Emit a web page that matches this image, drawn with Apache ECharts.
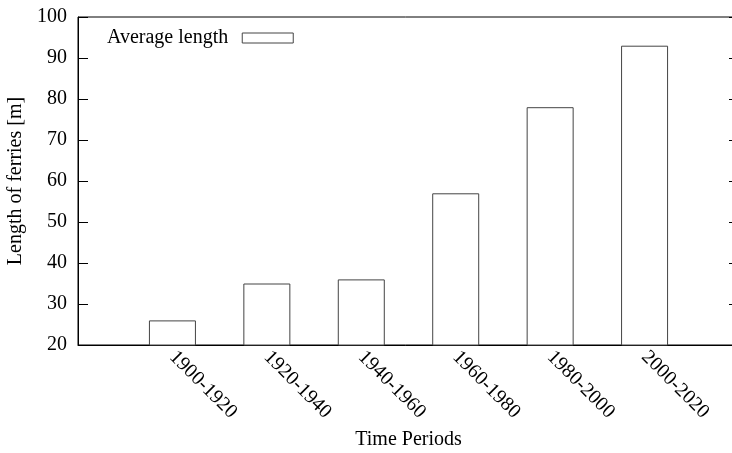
<!DOCTYPE html>
<html>
<head>
<meta charset="utf-8">
<script src="https://cdn.jsdelivr.net/npm/echarts@6/dist/echarts.min.js"></script>
<style>html,body{margin:0;padding:0;background:#fff;}#chart{width:732px;height:453px;}</style>
</head>
<body>
<div id="chart"></div>
<script>
const periods = ['1900-1920', '1920-1940', '1940-1960', '1960-1980', '1980-2000', '2000-2020'];
const averageLength = [26, 35, 36, 57, 78, 93];
const yTicks = [20, 30, 40, 50, 60, 70, 80, 90, 100];

const FONT = "'Liberation Serif', 'DejaVu Serif', serif";
const chart = echarts.init(document.getElementById('chart'), null, {renderer: 'canvas'});
chart.setOption({
  animation: false,
  backgroundColor: '#fff',
  textStyle: {fontFamily: FONT, color: '#000'},
  grid: {left: 78, top: 17, width: 661, height: 328, show: true, borderColor: '#000', borderWidth: 1, backgroundColor: 'transparent', containLabel: false, outerBoundsMode: 'none'},
  legend: {
    data: ['Average length'],
    left: 102, top: 23,
    align: 'right',
    icon: 'rect',
    itemWidth: 51, itemHeight: 10,
    textStyle: {fontFamily: FONT, fontSize: 20, color: '#000', padding: [0, 9, 0, 0]},
    itemStyle: {color: '#fff', borderColor: '#444', borderWidth: 1}
  },
  xAxis: {
    type: 'value', min: -1, max: 6, interval: 1,
    name: 'Time Periods', nameLocation: 'middle', nameGap: 84,
    nameTextStyle: {fontFamily: FONT, fontSize: 20, color: '#000'},
    axisLine: {show: true, onZero: false, lineStyle: {color: '#000', width: 1}},
    axisTick: {show: false},
    splitLine: {show: false},
    axisLabel: {
      rotate: -45, margin: 9, fontFamily: FONT, fontSize: 20, color: '#000',
      formatter: v => (periods[v] !== undefined ? periods[v] : '')
    }
  },
  yAxis: [{
    type: 'value', min: yTicks[0], max: yTicks[yTicks.length - 1], interval: 10,
    name: 'Length of ferries [m]', nameLocation: 'middle', nameGap: 50,
    nameTextStyle: {fontFamily: FONT, fontSize: 20, color: '#000'},
    axisLine: {show: true, onZero: false, lineStyle: {color: '#000', width: 1}},
    axisTick: {show: true, inside: true, length: 10, lineStyle: {color: '#000'}},
    splitLine: {show: false},
    axisLabel: {margin: 11, fontFamily: FONT, fontSize: 20, color: '#000'}
  }, {
    type: 'value', position: 'right', min: yTicks[0], max: yTicks[yTicks.length - 1], interval: 10,
    axisLine: {show: true, onZero: false, lineStyle: {color: '#000', width: 1}},
    axisTick: {show: true, inside: true, length: 10, lineStyle: {color: '#000'}},
    splitLine: {show: false},
    axisLabel: {show: false}
  }],
  series: [{
    name: 'Average length',
    type: 'bar',
    barWidth: 47,
    data: averageLength.map((v, i) => [i, v]),
    itemStyle: {color: '#fff', borderColor: '#444', borderWidth: 1}
  }]
});
</script>
</body>
</html>
